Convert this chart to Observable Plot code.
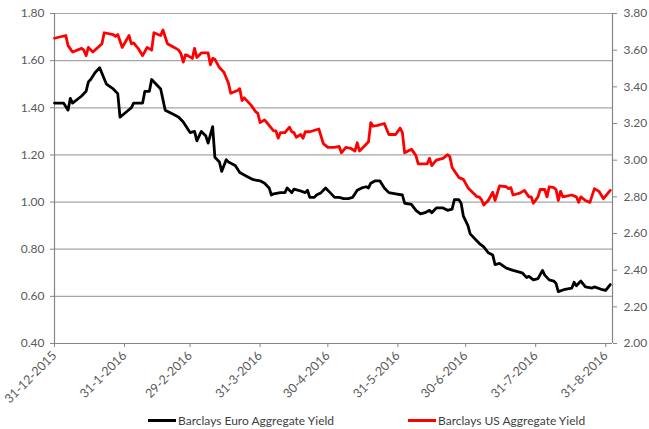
<!DOCTYPE html>
<html><head><meta charset="utf-8">
<script src="https://cdn.jsdelivr.net/npm/d3@7"></script>
<script src="https://cdn.jsdelivr.net/npm/@observablehq/plot@0.6"></script>
<style>
body{margin:0;background:#fff;font-family:Lato, "Noto Sans", sans-serif;}
#wrap{position:relative;width:649px;height:429px;}
#legend{position:absolute;left:0;top:412px;width:649px;height:16px;font-size:12px;color:#404040;}
.item{position:absolute;top:0;display:flex;align-items:center;height:16px;white-space:nowrap;}
.swatch{width:28px;height:3px;margin-right:2px;}
</style></head><body>
<div id="wrap"><div id="chart"></div><div id="legend"></div></div>
<script>
const euroDates = ["2015-12-31","2016-01-04","2016-01-06","2016-01-07","2016-01-08","2016-01-12","2016-01-14","2016-01-15","2016-01-16","2016-01-18","2016-01-20","2016-01-23","2016-01-26","2016-01-28","2016-01-29","2016-02-03","2016-02-04","2016-02-08","2016-02-09","2016-02-11","2016-02-12","2016-02-14","2016-02-16","2016-02-18","2016-02-22","2016-02-24","2016-02-26","2016-02-29","2016-03-02","2016-03-03","2016-03-05","2016-03-07","2016-03-08","2016-03-10","2016-03-11","2016-03-13","2016-03-14","2016-03-16","2016-03-17","2016-03-20","2016-03-22","2016-03-25","2016-03-28","2016-03-31","2016-04-02","2016-04-04","2016-04-05","2016-04-06","2016-04-09","2016-04-11","2016-04-12","2016-04-14","2016-04-15","2016-04-17","2016-04-20","2016-04-21","2016-04-22","2016-04-24","2016-04-25","2016-04-27","2016-04-29","2016-05-01","2016-05-03","2016-05-05","2016-05-07","2016-05-09","2016-05-11","2016-05-13","2016-05-15","2016-05-17","2016-05-18","2016-05-19","2016-05-21","2016-05-23","2016-05-25","2016-05-27","2016-05-30","2016-06-02","2016-06-03","2016-06-06","2016-06-08","2016-06-10","2016-06-12","2016-06-14","2016-06-15","2016-06-17","2016-06-20","2016-06-22","2016-06-24","2016-06-25","2016-06-27","2016-06-28","2016-06-29","2016-07-01","2016-07-02","2016-07-05","2016-07-06","2016-07-08","2016-07-10","2016-07-12","2016-07-13","2016-07-15","2016-07-18","2016-07-21","2016-07-23","2016-07-25","2016-07-27","2016-07-28","2016-07-30","2016-08-01","2016-08-03","2016-08-04","2016-08-06","2016-08-08","2016-08-09","2016-08-10","2016-08-13","2016-08-16","2016-08-17","2016-08-18","2016-08-20","2016-08-22","2016-08-25","2016-08-26","2016-08-29","2016-08-31","2016-09-02"];
const euroYield = [1.42,1.42,1.39,1.44,1.42,1.45,1.47,1.51,1.52,1.55,1.57,1.50,1.48,1.46,1.36,1.40,1.42,1.42,1.47,1.47,1.52,1.50,1.48,1.39,1.37,1.36,1.34,1.295,1.30,1.26,1.30,1.28,1.25,1.32,1.19,1.17,1.13,1.18,1.17,1.155,1.125,1.11,1.095,1.09,1.08,1.06,1.03,1.035,1.04,1.04,1.06,1.04,1.055,1.05,1.04,1.05,1.02,1.02,1.03,1.04,1.06,1.04,1.02,1.02,1.015,1.015,1.02,1.05,1.06,1.065,1.06,1.08,1.09,1.09,1.06,1.04,1.035,1.03,0.995,0.99,0.965,0.95,0.955,0.965,0.955,0.975,0.975,0.965,0.97,1.01,1.01,0.995,0.94,0.90,0.865,0.835,0.825,0.81,0.785,0.775,0.735,0.74,0.72,0.71,0.705,0.70,0.68,0.685,0.67,0.675,0.71,0.69,0.67,0.665,0.655,0.62,0.63,0.635,0.66,0.645,0.665,0.64,0.635,0.64,0.63,0.625,0.65];

const usDates = ["2015-12-31","2016-01-05","2016-01-06","2016-01-08","2016-01-12","2016-01-13","2016-01-14","2016-01-15","2016-01-17","2016-01-21","2016-01-22","2016-01-26","2016-01-27","2016-01-28","2016-01-30","2016-02-02","2016-02-03","2016-02-04","2016-02-06","2016-02-08","2016-02-10","2016-02-12","2016-02-13","2016-02-16","2016-02-17","2016-02-19","2016-02-22","2016-02-24","2016-02-25","2016-02-26","2016-02-27","2016-02-28","2016-03-01","2016-03-02","2016-03-03","2016-03-05","2016-03-08","2016-03-09","2016-03-10","2016-03-11","2016-03-13","2016-03-15","2016-03-17","2016-03-18","2016-03-21","2016-03-22","2016-03-23","2016-03-24","2016-03-27","2016-03-29","2016-03-30","2016-03-31","2016-04-02","2016-04-04","2016-04-06","2016-04-07","2016-04-08","2016-04-09","2016-04-11","2016-04-13","2016-04-14","2016-04-15","2016-04-16","2016-04-18","2016-04-19","2016-04-20","2016-04-22","2016-04-26","2016-04-28","2016-04-30","2016-05-03","2016-05-05","2016-05-06","2016-05-08","2016-05-10","2016-05-12","2016-05-13","2016-05-14","2016-05-16","2016-05-18","2016-05-19","2016-05-20","2016-05-22","2016-05-25","2016-05-27","2016-05-30","2016-06-01","2016-06-02","2016-06-03","2016-06-06","2016-06-08","2016-06-09","2016-06-13","2016-06-14","2016-06-15","2016-06-17","2016-06-20","2016-06-22","2016-06-23","2016-06-24","2016-06-27","2016-06-29","2016-07-01","2016-07-05","2016-07-06","2016-07-07","2016-07-08","2016-07-10","2016-07-12","2016-07-13","2016-07-15","2016-07-18","2016-07-19","2016-07-20","2016-07-21","2016-07-24","2016-07-26","2016-07-28","2016-07-29","2016-07-30","2016-08-01","2016-08-02","2016-08-04","2016-08-05","2016-08-06","2016-08-08","2016-08-09","2016-08-10","2016-08-11","2016-08-12","2016-08-16","2016-08-18","2016-08-19","2016-08-20","2016-08-22","2016-08-24","2016-08-26","2016-08-28","2016-08-30","2016-09-01","2016-09-02"];
const usYield = [3.665,3.68,3.625,3.59,3.61,3.60,3.57,3.615,3.59,3.635,3.695,3.685,3.675,3.685,3.615,3.68,3.635,3.64,3.61,3.57,3.615,3.60,3.695,3.68,3.71,3.635,3.615,3.60,3.58,3.535,3.575,3.57,3.555,3.61,3.56,3.585,3.585,3.52,3.555,3.55,3.505,3.48,3.42,3.365,3.38,3.39,3.325,3.34,3.30,3.265,3.255,3.205,3.22,3.19,3.16,3.16,3.12,3.15,3.15,3.18,3.155,3.15,3.125,3.14,3.12,3.155,3.155,3.17,3.09,3.07,3.07,3.075,3.04,3.07,3.065,3.05,3.095,3.05,3.075,3.10,3.205,3.185,3.19,3.20,3.14,3.14,3.175,3.15,3.04,3.06,3.025,2.98,2.98,3.01,2.97,3.00,3.01,3.03,3.02,2.96,2.905,2.895,2.85,2.80,2.80,2.785,2.755,2.78,2.825,2.78,2.86,2.855,2.845,2.85,2.81,2.82,2.835,2.80,2.80,2.765,2.80,2.84,2.84,2.80,2.855,2.85,2.84,2.78,2.83,2.80,2.81,2.80,2.77,2.80,2.78,2.77,2.845,2.83,2.79,2.82,2.835];

const tickDates = ["2015-12-31","2016-01-31","2016-02-29","2016-03-31","2016-04-30","2016-05-31","2016-06-30","2016-07-31","2016-08-31"];
const leftTicks = [0.40,0.60,0.80,1.00,1.20,1.40,1.60,1.80];
const rightTicks = [2.00,2.20,2.40,2.60,2.80,3.00,3.20,3.40,3.60,3.80];
const seriesNames = ["Barclays Euro Aggregate Yield","Barclays US Aggregate Yield"];
const seriesColors = ["#000000","#ff0000"];

const parse = s => new Date(s + "T00:00:00Z");
const euro = euroDates.map((d,i) => ({date: parse(d), value: euroYield[i]}));
const us = usDates.map((d,i) => ({date: parse(d), value: usYield[i]}));
// map right axis (2.0–3.8) onto left axis (0.4–1.8)
const toLeft = v => 0.4 + (v - 2.0) * (1.4 / 1.8);
const fromLeft = v => 2.0 + (v - 0.4) * (1.8 / 1.4);
const xDomain = [parse("2015-12-31"), parse("2016-09-03")];
const fmtDate = d => `${d.getUTCDate()}-${d.getUTCMonth()+1}-${d.getUTCFullYear()}`;
const axisGray = "#868686";
const gridGray = "#a6a6a6";
const textGray = "#595959";

const chart = Plot.plot({
  width: 649,
  height: 408,
  marginLeft: 54,
  marginRight: 37,
  marginTop: 13,
  marginBottom: 65,
  style: {fontFamily: "Lato, 'Noto Sans', sans-serif", fontSize: "12px", background: "#fff"},
  x: {type: "utc", domain: xDomain},
  y: {domain: [0.4, 1.8]},
  marks: [
    Plot.ruleY(leftTicks.slice(1), {stroke: gridGray, strokeWidth: 1.2}),
    Plot.ruleY([0.4], {stroke: axisGray, strokeWidth: 1.2}),
    Plot.ruleX([xDomain[0]], {stroke: axisGray, strokeWidth: 1.2}),
    Plot.ruleX([xDomain[1]], {stroke: axisGray, strokeWidth: 1.2}),
    Plot.axisY(leftTicks, {anchor: "left", tickSize: 4, tickPadding: 6, tickFormat: d => d.toFixed(2), stroke: axisGray, fill: textGray, label: null}),
    Plot.axisY(rightTicks.map(toLeft), {anchor: "right", tickSize: 4, tickPadding: 7, tickFormat: d => fromLeft(d).toFixed(2), stroke: axisGray, fill: textGray, label: null}),
    Plot.axisX(tickDates.map(parse), {anchor: "bottom", tickSize: 4, tickPadding: 6, tickRotate: -45, tickFormat: fmtDate, stroke: axisGray, fill: textGray, fontSize: 12.5, label: null}),
    Plot.line(us, {x: "date", y: d => toLeft(d.value), stroke: seriesColors[1], strokeWidth: 2.8, strokeLinejoin: "round"}),
    Plot.line(euro, {x: "date", y: "value", stroke: seriesColors[0], strokeWidth: 2.8, strokeLinejoin: "round"})
  ]
});
document.getElementById("chart").appendChild(chart);

const legend = document.getElementById("legend");
const lefts = [148, 408];
seriesNames.forEach((name, i) => {
  const item = document.createElement("div");
  item.className = "item";
  item.style.left = lefts[i] + "px";
  const sw = document.createElement("span");
  sw.className = "swatch";
  sw.style.background = seriesColors[i];
  const tx = document.createElement("span");
  tx.textContent = name;
  item.appendChild(sw); item.appendChild(tx);
  legend.appendChild(item);
});
</script>
</body></html>
